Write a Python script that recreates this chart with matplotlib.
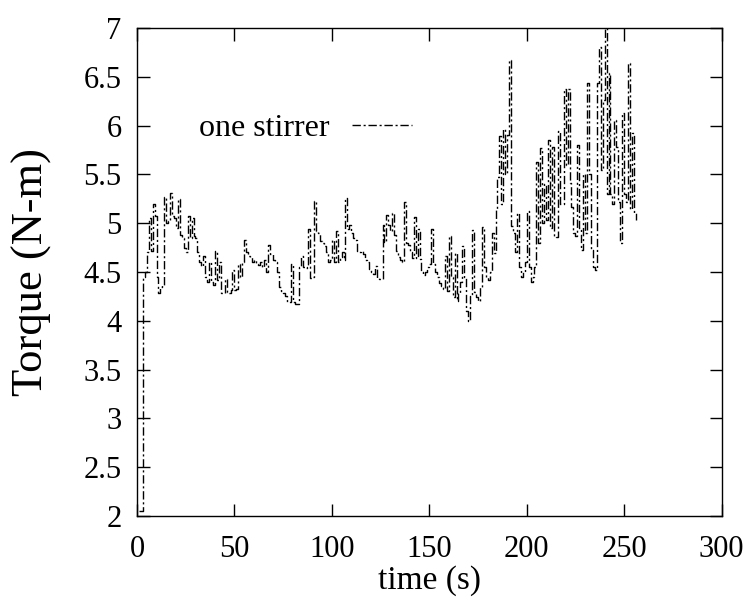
import matplotlib
matplotlib.use("Agg")
import matplotlib.pyplot as plt
import numpy as np

# torque trace, one sample per second (t = 1 .. 256 s)
time_s = np.arange(1, 257)
torque = [
    2.05, 2.05, 4.45, 4.50, 4.70, 5.05, 4.72, 5.20, 5.07, 4.45,
    4.28, 4.35, 4.37, 5.27, 5.00, 5.02, 5.31, 5.07, 5.05, 4.95,
    5.25, 4.88, 4.85, 4.75, 4.70, 5.07, 4.85, 5.05, 4.87, 4.85,
    4.70, 4.60, 4.56, 4.66, 4.45, 4.40, 4.60, 4.40, 4.37, 4.72,
    4.42, 4.60, 4.28, 4.28, 4.43, 4.30, 4.28, 4.32, 4.52, 4.32,
    4.33, 4.58, 4.45, 4.60, 4.83, 4.70, 4.66, 4.65, 4.60, 4.62,
    4.58, 4.57, 4.60, 4.55, 4.62, 4.50, 4.78, 4.68, 4.68, 4.62,
    4.60, 4.50, 4.35, 4.31, 4.28, 4.25, 4.19, 4.19, 4.58, 4.19,
    4.17, 4.17, 4.55, 4.66, 4.55, 4.54, 4.55, 4.94, 4.44, 4.45,
    5.23, 4.92, 4.90, 4.82, 4.80, 4.77, 4.70, 4.60, 4.62, 4.83,
    4.60, 4.92, 4.60, 4.65, 4.70, 4.62, 5.26, 4.94, 4.98, 4.90,
    4.85, 4.83, 4.72, 4.70, 4.72, 4.68, 4.62, 4.60, 4.53, 4.50,
    4.48, 4.56, 4.44, 4.43, 4.43, 4.98, 4.81, 5.08, 4.98, 4.92,
    5.10, 4.88, 4.72, 4.65, 4.62, 4.60, 5.22, 4.80, 4.78, 4.70,
    4.64, 5.06, 4.64, 4.94, 4.63, 4.50, 4.47, 4.50, 4.55, 4.58,
    4.94, 4.58, 4.50, 4.45, 4.39, 4.36, 4.33, 4.66, 4.31, 4.87,
    4.45, 4.24, 4.69, 4.20, 4.28, 4.40, 4.77, 4.45, 4.10, 4.00,
    4.25, 4.93, 4.30, 4.24, 4.20, 4.35, 4.96, 4.55, 4.45, 4.42,
    4.50, 4.90, 4.69, 5.13, 5.47, 5.89, 5.20, 5.96, 5.50, 5.90,
    6.67, 4.97, 4.90, 4.70, 5.10, 4.55, 4.45, 4.50, 4.60, 5.12,
    4.55, 4.40, 4.45, 4.55, 5.63, 4.80, 5.77, 5.00, 5.40, 5.03,
    5.85, 4.95, 5.78, 4.87, 4.86, 5.94, 5.20, 5.20, 6.38, 5.60,
    6.38, 5.41, 5.17, 4.90, 4.87, 5.80, 4.95, 4.73, 5.50, 4.90,
    6.44, 5.50, 4.73, 4.55, 4.52, 6.44, 6.81, 5.55, 6.26, 7.00,
    5.30, 6.54, 5.30, 5.20, 6.06, 5.78, 5.22, 4.80, 6.13, 5.30,
    5.22, 6.64, 5.15, 5.92, 5.10, 5.03,
]

x_ticks = [0, 50, 100, 150, 200, 250, 300]
y_ticks = [2, 2.5, 3, 3.5, 4, 4.5, 5, 5.5, 6, 6.5, 7]
y_tick_labels = ["2", "2.5", "3", "3.5", "4", "4.5", "5", "5.5", "6", "6.5", "7"]

plt.rcParams["font.family"] = ["Liberation Serif", "DejaVu Serif"]

fig = plt.figure(figsize=(7.5, 6.02), dpi=100)
ax = fig.add_axes([0.1827, 0.1429, 0.7793, 0.8106])

ax.plot(time_s, torque, color="black", lw=1.0, drawstyle="steps-post",
        linestyle=(0, (6, 2, 1.5, 2)), label="one stirrer")

ax.set_xlim(0, 300)
ax.set_ylim(2, 7)
ax.set_xticks(x_ticks)
ax.set_yticks(y_ticks)
ax.set_yticklabels(y_tick_labels)
ax.tick_params(direction="in", length=9, width=1, top=True, right=True,
               labelsize=22)
ax.tick_params(axis="x", pad=14)
ax.tick_params(axis="y", pad=11)
for s in ax.spines.values():
    s.set_linewidth(1.0)

ax.set_xlabel("time (s)", fontsize=24)
ax.set_ylabel("Torque (N-m)", fontsize=32)
ax.xaxis.set_label_coords(0.5, -0.1)
ax.yaxis.set_label_coords(-0.145, 0.5)

ax.legend(loc="center right", bbox_to_anchor=(0.52, 0.795), frameon=False,
          markerfirst=False, fontsize=23, handlelength=1.9, handletextpad=0.7)

fig.savefig("out.png", dpi=100)
